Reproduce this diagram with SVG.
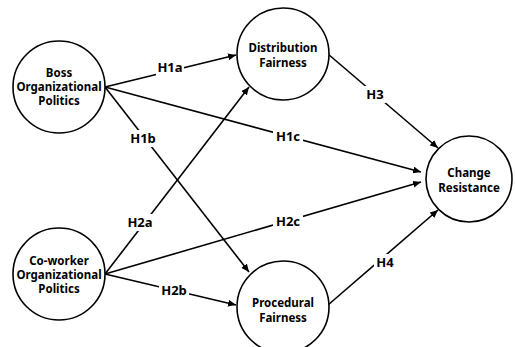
<svg xmlns="http://www.w3.org/2000/svg" width="515" height="347" viewBox="0 0 515 347">
<defs>
<style>
.node{fill:#fff;stroke:#000;stroke-width:1.6}
.nt{font-family:"Noto Sans","Liberation Sans",sans-serif;font-weight:bold;font-size:11.5px;text-anchor:middle;fill:#000}
.edge{stroke:#000;stroke-width:1.6;fill:none;marker-end:url(#ah)}
.lb{fill:#fff}
.lt{font-family:"Noto Sans","Liberation Sans",sans-serif;font-weight:bold;font-size:13px;text-anchor:middle;fill:#000}
</style>
<marker id="ah" markerUnits="userSpaceOnUse" markerWidth="9" markerHeight="7" refX="8" refY="3.5" orient="auto">
<path d="M0,0 L8,3.5 L0,7 Z" fill="#000"/>
</marker>
</defs>
<rect width="515" height="347" fill="#fff"/>
<g id="connectors">
<line class="edge" x1="105" y1="87" x2="236" y2="55"/>
<line class="edge" x1="105" y1="87" x2="249" y2="272"/>
<line class="edge" x1="105" y1="87" x2="421" y2="172"/>
<line class="edge" x1="105" y1="274" x2="249" y2="87"/>
<line class="edge" x1="105" y1="274" x2="236" y2="305"/>
<line class="edge" x1="105" y1="274" x2="421" y2="182"/>
<line class="edge" x1="328" y1="54" x2="438" y2="148"/>
<line class="edge" x1="328" y1="305" x2="438" y2="210"/>
<g id="labels">
<rect class="lb" x="156" y="59" width="28" height="17"/><text class="lt" x="170" y="72">H1a</text>
<rect class="lb" x="128" y="130" width="30" height="17"/><text class="lt" x="143" y="143">H1b</text>
<rect class="lb" x="273" y="128" width="30" height="17"/><text class="lt" x="288" y="141">H1c</text>
<rect class="lb" x="125" y="214" width="30" height="17"/><text class="lt" x="140" y="227">H2a</text>
<rect class="lb" x="159" y="282" width="30" height="17"/><text class="lt" x="174" y="295">H2b</text>
<rect class="lb" x="273" y="213" width="30" height="17"/><text class="lt" x="288" y="226">H2c</text>
<rect class="lb" x="364" y="86" width="22" height="17"/><text class="lt" x="375" y="99">H3</text>
<rect class="lb" x="374" y="254" width="22" height="17"/><text class="lt" x="385" y="267">H4</text>
</g>
</g>
<g id="boss">
<circle class="node" cx="59" cy="87" r="46"/>
<text class="nt" x="59" y="77">Boss</text>
<text class="nt" x="59" y="91">Organizational</text>
<text class="nt" x="59" y="105">Politics</text>
</g>
<g id="coworker">
<circle class="node" cx="59" cy="274" r="46"/>
<text class="nt" x="59" y="265">Co-worker</text>
<text class="nt" x="59" y="279">Organizational</text>
<text class="nt" x="59" y="293">Politics</text>
</g>
<g id="distribution">
<circle class="node" cx="283" cy="54" r="46"/>
<text class="nt" x="283" y="52">Distribution</text>
<text class="nt" x="283" y="67">Fairness</text>
</g>
<g id="procedural">
<circle class="node" cx="283" cy="307" r="46"/>
<text class="nt" x="283" y="307">Procedural</text>
<text class="nt" x="283" y="322">Fairness</text>
</g>
<g id="change">
<circle class="node" cx="469" cy="179" r="43"/>
<text class="nt" x="469" y="177">Change</text>
<text class="nt" x="469" y="192">Resistance</text>
</g>
</svg>
